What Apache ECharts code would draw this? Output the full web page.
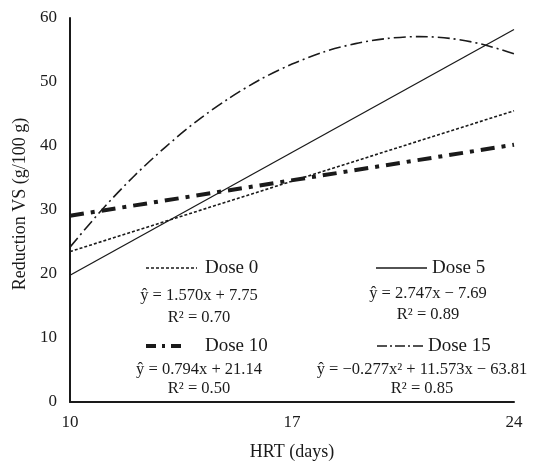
<!DOCTYPE html>
<html><head><meta charset="utf-8">
<script src="https://cdn.jsdelivr.net/npm/echarts@6/dist/echarts.min.js"></script>
<style>html,body{margin:0;padding:0;background:#fff}#c{width:558px;height:463px}</style>
</head><body><div id="c"></div>
<script>
const xTicks = [10, 17, 24];
const dose0 = [[10, 23.5], [24, 45.5]];
const dose5 = [[10, 19.8], [24, 58.2]];
const dose10 = [[10, 29.1], [24, 40.2]];
const dose15x = [10, 11, 12, 13, 14, 15, 16, 17, 18, 19, 20, 21, 22, 23, 24];
const dose15y = [24.2, 30.0, 35.2, 39.8, 43.9, 47.4, 50.4, 52.8, 54.7, 56.0, 56.8, 57.1, 56.8, 55.9, 54.4];
const seriesNames = ['Dose 0', 'Dose 5', 'Dose 10', 'Dose 15'];
const equations = ['ŷ = 1.570x + 7.75', 'ŷ = 2.747x − 7.69', 'ŷ = 0.794x + 21.14', 'ŷ = −0.277x² + 11.573x − 63.81'];
const r2 = ['R² = 0.70', 'R² = 0.89', 'R² = 0.50', 'R² = 0.85'];

const FONT = '"Liberation Serif", "DejaVu Serif", serif';
const styles = [
  {width: 1.6, type: [3, 2], legend: [3, 2]},
  {width: 1.3, type: 'solid', legend: null},
  {width: 4, type: [14, 7, 4, 7], legend: [10, 6, 3, 6]},
  {width: 1.6, type: [12, 4, 2, 4], legend: [10, 3, 2, 3]}
];
const dose15 = dose15x.map((x, i) => [x, dose15y[i]]);
const datas = [dose0, dose5, dose10, dose15];

const chart = echarts.init(document.getElementById('c'));
const legendPos = [
  {lx: 146, rx: 197, tx: 205, ty: 268, cx: 199, ey: 296, ry: 318},
  {lx: 376, rx: 427, tx: 432, ty: 268, cx: 428, ey: 294, ry: 315},
  {lx: 146, rx: 181, tx: 205, ty: 346, cx: 199, ey: 370, ry: 389},
  {lx: 377, rx: 425, tx: 428, ty: 346, cx: 422, ey: 370, ry: 389}
];
const graphics = [];
legendPos.forEach((p, i) => {
  graphics.push({type: 'line', shape: {x1: p.lx, y1: p.ty, x2: p.rx, y2: p.ty},
    style: {stroke: '#1a1a1a', lineWidth: styles[i].width, lineDash: styles[i].legend}, z: 10});
  graphics.push({type: 'text', x: p.tx, y: p.ty, style: {text: seriesNames[i], font: '19px ' + FONT, fill: '#1a1a1a', textVerticalAlign: 'middle', verticalAlign: 'middle'}, z: 10});
  graphics.push({type: 'text', x: p.cx, y: p.ey, style: {text: equations[i], font: '16.5px ' + FONT, fill: '#1a1a1a', textAlign: 'center', align: 'center', verticalAlign: 'middle', textVerticalAlign: 'middle'}, z: 10});
  graphics.push({type: 'text', x: p.cx, y: p.ry, style: {text: r2[i], font: '16.5px ' + FONT, fill: '#1a1a1a', textAlign: 'center', align: 'center', verticalAlign: 'middle', textVerticalAlign: 'middle'}, z: 10});
});

chart.setOption({
  animation: false,
  backgroundColor: '#fff',
  grid: {left: 70, right: 44, top: 18, bottom: 61, outerBoundsMode: 'none', containLabel: false},
  xAxis: {
    type: 'value', min: 10, max: 24, interval: 7,
    name: 'HRT (days)', nameLocation: 'middle', nameGap: 41,
    nameTextStyle: {fontFamily: FONT, fontSize: 18, color: '#1a1a1a'},
    axisLine: {show: true, lineStyle: {color: '#1a1a1a', width: 2}},
    axisTick: {show: false},
    splitLine: {show: false},
    axisLabel: {fontFamily: FONT, fontSize: 17, color: '#1a1a1a', margin: 12,
      customValues: xTicks}
  },
  yAxis: {
    type: 'value', min: 0, max: 60, interval: 10,
    name: 'Reduction VS (g/100 g)', nameLocation: 'middle', nameGap: 41,
    nameTextStyle: {fontFamily: FONT, fontSize: 18, color: '#1a1a1a', padding: [0, 0, 0, 12]},
    axisLine: {show: true, lineStyle: {color: '#1a1a1a', width: 2}},
    axisTick: {show: false},
    splitLine: {show: false},
    axisLabel: {fontFamily: FONT, fontSize: 17, color: '#1a1a1a', margin: 13}
  },
  series: datas.map((d, i) => ({
    name: seriesNames[i], type: 'line', data: d, smooth: i === 3 ? 0.3 : false,
    showSymbol: false, symbol: 'none',
    lineStyle: {color: '#1a1a1a', width: styles[i].width, type: styles[i].type}
  })),
  graphic: graphics
});
</script></body></html>
